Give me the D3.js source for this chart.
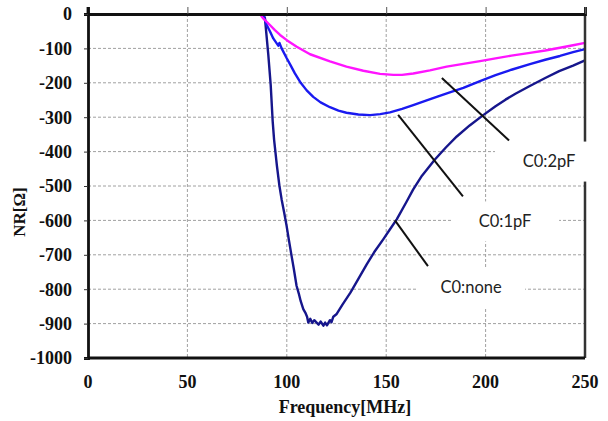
<!DOCTYPE html>
<html>
<head>
<meta charset="utf-8">
<script src="https://cdn.jsdelivr.net/npm/d3@7"></script>
<style>
  body { margin: 0; background: #fff; }
  svg { display: block; }
</style>
</head>
<body>
<svg width="608" height="421"></svg>
<script>
// tick values
const xTicks = [0, 50, 100, 150, 200, 250];
const yTicks = [0, -100, -200, -300, -400, -500, -600, -700, -800, -900, -1000];

// C0:none (navy)
const noneFreq = [88, 89, 90.7, 91.9, 92.9, 93.6, 95, 96.3, 97.4, 98.6, 99.9, 101, 102.4, 103.5, 104.9, 106, 107,
  108.3, 109.3, 110.2, 110.8, 111.8, 112.8, 113.8, 115, 116, 117, 118.4, 119.3, 120.2, 121.7, 122.5, 123.4, 125.1,
  128, 132, 136, 140.2, 144, 148.5, 152, 155.3, 160.3, 163.6, 168, 174.5, 180, 185.5, 192, 198.8, 205, 210, 215,
  222, 230, 237, 244, 250];
const noneNR = [0, -12, -119, -206, -312, -365, -440, -500, -539, -575, -616, -655, -703, -740, -790, -812, -835,
  -858, -868, -880, -897, -886, -898, -890, -897, -903, -894, -906, -897, -905, -890, -896, -880, -872,
  -845, -810, -770, -728, -692, -655, -625, -597, -545, -510, -470, -423, -388, -356, -324, -294, -268, -249, -232,
  -210, -186, -166, -150, -135];

// C0:1pF (blue)
const pf1Freq = [88, 89.9, 91.5, 93.2, 95, 95.7, 96.3, 97.4, 99.9, 102, 104, 107, 110, 113.3, 117, 121.7, 126, 130,
  136, 141.9, 147, 151.9, 158, 163.6, 170, 175.4, 182, 188.8, 197.2, 205, 213, 222.3, 230, 237.4, 244, 250];
const pf1NR = [0, -32, -50, -71, -86, -92, -84, -100, -128, -150, -172, -200, -222, -241, -257, -271, -281, -287,
  -292, -294, -291, -286, -276, -265, -252, -241, -228, -215, -195, -178, -162, -146, -133, -122, -111, -102];

// C0:2pF (magenta)
const pf2Freq = [86.5, 88, 91.5, 94, 96.6, 100, 105, 111.7, 121.7, 130, 138.5, 146.9, 153.6, 158, 163.6, 172, 180.4,
  188.8, 197.2, 205, 213, 222.3, 230, 237.4, 244, 250];
const pf2NR = [0, -12, -32, -47, -61, -76, -95, -117, -138, -153, -165, -174, -177, -177, -173, -164, -153,
  -145, -137, -129, -121, -113, -106, -98, -91, -84];

// annotation labels: text, label centre, pointer line ends (data units)
const labelText = ['C0:2pF', 'C0:1pF', 'C0:none'];
const labelAt = [[231.9, -429], [209.8, -603], [192.7, -794]];
const pointerFrom = [[178, -186], [156, -293], [154.4, -600]];
const pointerTo = [[211.8, -368], [188.6, -530], [171, -733]];

const W = 608, H = 421;
const m = {left: 88, right: 23, top: 14, bottom: 63};
const svg = d3.select('svg');
const serif = '"Liberation Serif", "Times New Roman", serif';

const x = d3.scaleLinear().domain([0, 250]).range([m.left, W - m.right]);
const y = d3.scaleLinear().domain([0, -1000]).range([m.top, H - m.bottom]);

// grid
const grid = svg.append('g').attr('stroke', '#a0a0a0').attr('stroke-width', 1)
  .attr('stroke-dasharray', '3,2');
grid.selectAll('.gx').data(xTicks.slice(1, -1)).enter().append('line')
  .attr('x1', d => x(d)).attr('x2', d => x(d)).attr('y1', y(0)).attr('y2', y(-1000));
grid.selectAll('.gy').data(yTicks.slice(1, -1)).enter().append('line')
  .attr('x1', x(0)).attr('x2', x(250)).attr('y1', d => y(d)).attr('y2', d => y(d));

// series
const series = [
  {f: noneFreq, v: noneNR, c: '#16168c'},
  {f: pf1Freq, v: pf1NR, c: '#1a1af0'},
  {f: pf2Freq, v: pf2NR, c: '#ff14ff'}
];
const line = d3.line().x(d => x(d[0])).y(d => y(d[1]));
series.forEach(s => {
  svg.append('path').datum(s.f.map((f, i) => [f, s.v[i]]))
    .attr('fill', 'none').attr('stroke', s.c).attr('stroke-width', 2.4)
    .attr('stroke-linejoin', 'round').attr('d', line);
});

// frame: right & bottom border
svg.append('line').attr('x1', x(250)).attr('x2', x(250)).attr('y1', y(0)).attr('y2', y(-1000))
  .attr('stroke', '#333').attr('stroke-width', 2.5);
svg.append('line').attr('x1', x(0)).attr('x2', x(250)).attr('y1', y(-1000)).attr('y2', y(-1000))
  .attr('stroke', '#111').attr('stroke-width', 2.8);

// x axis sits on NR = 0 (top), ticks outward, labels at the bottom
const xAxis = svg.append('g').attr('transform', `translate(0,${y(0)})`)
  .call(d3.axisTop(x).tickValues(xTicks).tickSize(7).tickFormat(''));
xAxis.select('.domain').attr('stroke', '#111').attr('stroke-width', 2.8);
xAxis.selectAll('.tick line').attr('stroke', '#555').attr('stroke-width', 1);

svg.append('g').selectAll('text').data(xTicks).enter().append('text')
  .attr('x', d => x(d)).attr('y', 388).attr('text-anchor', 'middle')
  .attr('font-family', serif)
  .attr('font-weight', 'bold').attr('font-size', 18).attr('fill', '#111')
  .text(d => d);

const yAxis = svg.append('g').attr('transform', `translate(${x(0)},0)`)
  .call(d3.axisLeft(y).tickValues(yTicks).tickSize(4).tickFormat(''));
yAxis.select('.domain').attr('stroke', '#111').attr('stroke-width', 2.8);
yAxis.selectAll('.tick line').attr('stroke', '#333');

svg.append('g').selectAll('text').data(yTicks).enter().append('text')
  .attr('x', 72).attr('y', d => y(d)).attr('dy', '0.35em').attr('text-anchor', 'end')
  .attr('font-family', serif)
  .attr('font-weight', 'bold').attr('font-size', 18).attr('fill', '#111')
  .text(d => String(d));

// left axis extends above plot like a tick
svg.append('line').attr('x1', x(0)).attr('x2', x(0)).attr('y1', y(0) - 7).attr('y2', y(0))
  .attr('stroke', '#111').attr('stroke-width', 2.8);

// axis titles
svg.append('text').attr('x', 345).attr('y', 413).attr('text-anchor', 'middle')
  .attr('font-family', serif)
  .attr('font-weight', 'bold').attr('font-size', 18).attr('fill', '#111')
  .text('Frequency[MHz]');
svg.append('text').attr('transform', 'translate(25,212) rotate(-90)').attr('text-anchor', 'middle')
  .attr('font-family', serif)
  .attr('font-weight', 'bold').attr('font-size', 17).attr('fill', '#111')
  .text('NR[Ω]');

// pointer lines
svg.append('g').selectAll('line').data(pointerFrom).enter().append('line')
  .attr('x1', d => x(d[0])).attr('y1', d => y(d[1]))
  .attr('x2', (d, i) => x(pointerTo[i][0])).attr('y2', (d, i) => y(pointerTo[i][1]))
  .attr('stroke', '#111').attr('stroke-width', 2);

// labels with white boxes
const lab = svg.append('g').selectAll('g').data(labelText).enter().append('g')
  .attr('transform', (d, i) => `translate(${x(labelAt[i][0])},${y(labelAt[i][1])})`);
lab.append('rect').attr('x', -54).attr('y', -20).attr('width', 108).attr('height', 40).attr('fill', '#fff');
lab.append('text').attr('text-anchor', 'middle').attr('dy', '0.35em')
  .attr('font-family', 'Lato, "Open Sans", sans-serif').attr('font-size', 16.5).attr('fill', '#222')
  .text(d => d);
</script>
</body>
</html>
